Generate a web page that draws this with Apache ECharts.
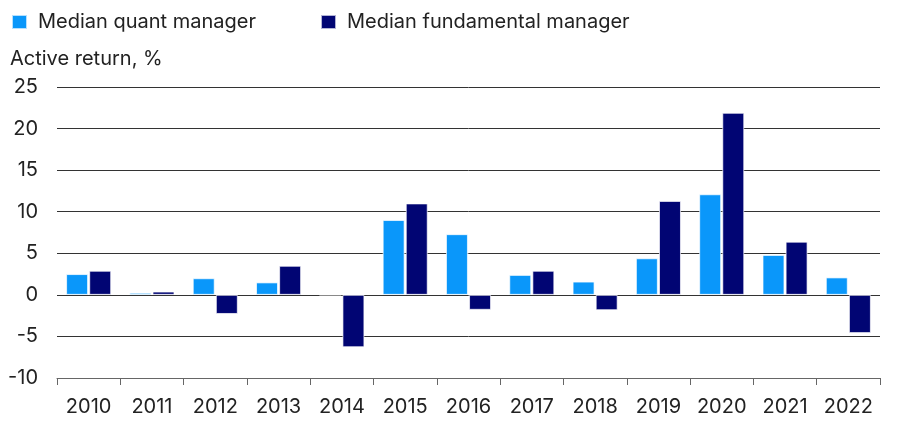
<!DOCTYPE html>
<html>
<head>
<meta charset="utf-8">
<script src="https://cdn.jsdelivr.net/npm/echarts@6/dist/echarts.min.js"></script>
<style>
  html, body { margin: 0; padding: 0; background: #fff; }
  #chart { width: 903px; height: 423px; }
</style>
</head>
<body>
<div id="chart"></div>
<script>
// 年份
const years = ["2010", "2011", "2012", "2013", "2014", "2015", "2016", "2017", "2018", "2019", "2020", "2021", "2022"];
// 量化经理中位数
const quantValues = [2.5, 0.25, 2.0, 1.5, 0, 9.0, 7.3, 2.4, 1.6, 4.4, 12.1, 4.8, 2.1];
// 基本面经理中位数
const fundamentalValues = [2.9, 0.4, -2.3, 3.5, -6.3, 11.0, -1.8, 2.9, -1.85, 11.3, 21.9, 6.4, -4.6];

const fontFamily = "Inter, Roboto, sans-serif";

var chart = echarts.init(document.getElementById("chart"));

var option = {
  animation: false,
  textStyle: { fontFamily: fontFamily },
  legend: {
    left: 6,
    top: 7,
    itemWidth: 15,
    itemHeight: 14,
    itemGap: 64,
    icon: "rect",
    textStyle: { fontSize: 20, color: "#222", fontFamily: fontFamily, padding: [0, 0, 0, 6] },
    data: ["Median quant manager", "Median fundamental manager"],
  },
  title: {
    text: "Active return, %",
    left: 5,
    top: 44,
    textStyle: { fontSize: 20, fontWeight: "normal", color: "#222", fontFamily: fontFamily },
  },
  grid: { left: 57, right: 23, top: 87, bottom: 45 },
  xAxis: {
    type: "category",
    data: years,
    position: "bottom",
    axisLine: { onZero: false, lineStyle: { color: "#666", width: 1 } },
    axisTick: { show: true, interval: 0, length: 7, lineStyle: { color: "#666" } },
    axisLabel: { interval: 0, fontSize: 20, color: "#222", margin: 19, fontFamily: fontFamily },
  },
  yAxis: {
    type: "value",
    min: -10,
    max: 25,
    interval: 5,
    axisLine: { show: false },
    axisTick: { show: false },
    axisLabel: { fontSize: 20, color: "#222", margin: 19, fontFamily: fontFamily },
    splitLine: { show: true, lineStyle: { color: "#333", width: 1 } },
  },
  series: [
    {
      name: "Median quant manager",
      type: "bar",
      data: quantValues,
      barWidth: 22,
      barGap: "5%",
      itemStyle: { color: "#0a97fa", borderColor: "rgba(255,255,255,0.7)", borderWidth: 1 },
    },
    {
      name: "Median fundamental manager",
      type: "bar",
      data: fundamentalValues,
      barWidth: 22,
      barGap: "5%",
      itemStyle: { color: "#010573", borderColor: "rgba(255,255,255,0.7)", borderWidth: 1 },
    },
  ],
};

chart.setOption(option);
</script>
</body>
</html>
